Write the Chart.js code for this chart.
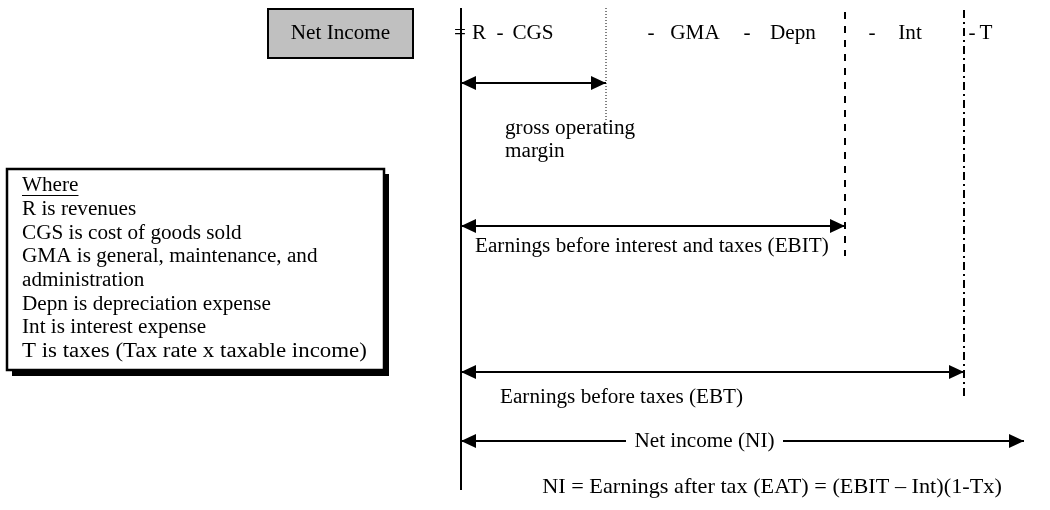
<!DOCTYPE html>
<html>
<head>
<meta charset="utf-8">
<title>Net Income</title>
<script src="https://cdn.jsdelivr.net/npm/chart.js@4.4.1/dist/chart.umd.min.js"></script>
<style>
  html, body { margin: 0; padding: 0; background: #ffffff; }
  #wrap { width: 1050px; height: 510px; }
</style>
</head>
<body>
<div id="wrap"><canvas id="diagram" width="1050" height="510"></canvas></div>
<script>
// terms of the income equation along the top (centre of each token)
const terms = ['=', 'R', '-', 'CGS', '-', 'GMA', '-', 'Depn', '-', 'Int', '-', 'T'];
const termX = [460, 479, 500, 533, 651, 695, 747, 793, 872, 910, 972, 986];

// boundaries: where each intermediate result ends
const boundaryX = [461, 606, 845, 964];
const boundaryTop = [8, 8, 12, 10];
const boundaryBottom = [490, 120, 256, 396];
const boundaryDash = [[], [1, 2], [7, 7], [8, 4, 2, 4]];
const boundaryWidth = [2, 1, 2, 2];

// spans (arrows) from revenue line to each boundary
const spanNames = ['Gross operating margin', 'EBIT', 'EBT', 'NI'];
const spanStart = [461, 461, 461, 461];
const spanEnd = [606, 845, 964, 1024];
const spanY = [83, 226, 372, 441];
const niGap = [626, 783];

// labels under the spans
const spanLabels = [['gross operating', 'margin'], ['Earnings before interest and taxes (EBIT)'], ['Earnings before taxes (EBT)']];
const spanLabelX = [505, 475, 500];
const spanLabelY = [129, 247, 398];
const niLabel = 'Net income (NI)';

const formula = 'NI = Earnings after tax (EAT) = (EBIT \u2013 Int)(1-Tx)';

const legendLines = ['Where', 'R is revenues', 'CGS is cost of goods sold', 'GMA is general, maintenance, and', 'administration', 'Depn is depreciation expense', 'Int is interest expense', 'T is taxes (Tax rate x taxable income)'];
const legendStretch = [1, 1, 1, 1, 1, 1, 1, 1.08];

const FONT = '20px "Liberation Serif", "Times New Roman", serif';
const STRETCH = 1.06;

function lineSet(xs, ys, opts) {
  return Object.assign({
    data: xs.map((x, i) => (x === null ? { x: null, y: null } : { x: x, y: ys[i] })),
    showLine: true,
    borderColor: '#000',
    backgroundColor: '#000',
    pointRadius: 0,
    pointHoverRadius: 0,
    spanGaps: false,
    tension: 0
  }, opts);
}

const datasets = [];
for (let i = 0; i < boundaryX.length; i++) {
  datasets.push(lineSet([boundaryX[i], boundaryX[i]], [boundaryTop[i], boundaryBottom[i]], {
    label: 'boundary ' + i,
    borderWidth: boundaryWidth[i],
    borderDash: boundaryDash[i],
    borderCapStyle: 'butt'
  }));
}
for (let i = 0; i < spanNames.length; i++) {
  let xs, ys;
  if (spanNames[i] === 'NI') {
    xs = [spanStart[i], niGap[0], null, niGap[1], spanEnd[i]];
    ys = [spanY[i], spanY[i], null, spanY[i], spanY[i]];
  } else {
    xs = [spanStart[i], spanEnd[i]];
    ys = [spanY[i], spanY[i]];
  }
  datasets.push(lineSet(xs, ys, {
    label: spanNames[i],
    borderWidth: 2,
    arrows: true
  }));
}

function drawText(ctx, text, x, y, align, opts) {
  opts = opts || {};
  const sx = STRETCH * (opts.stretch || 1);
  ctx.save();
  ctx.font = opts.font || FONT;
  ctx.fillStyle = '#000';
  ctx.textBaseline = 'middle';
  let w = ctx.measureText(text).width * sx;
  let left = align === 'center' ? x - w / 2 : x;
  ctx.translate(left, y);
  ctx.scale(sx, 1);
  ctx.textAlign = 'left';
  ctx.fillText(text, 0, 0);
  ctx.restore();
  return w;
}

const diagramPlugin = {
  id: 'diagram',
  beforeDatasetsDraw(chart) {
    const ctx = chart.ctx;
    const xs = chart.scales.x, ys = chart.scales.y;
    const px = v => xs.getPixelForValue(v);
    const py = v => ys.getPixelForValue(v);

    // "Net Income" box
    ctx.save();
    ctx.fillStyle = '#c0c0c0';
    ctx.fillRect(px(268), py(9), px(413) - px(268), py(58) - py(9));
    ctx.strokeStyle = '#000';
    ctx.lineWidth = 2;
    ctx.strokeRect(px(268), py(9), px(413) - px(268), py(58) - py(9));
    ctx.restore();
    drawText(ctx, 'Net Income', px(340.5), py(34), 'center');

    // legend box with drop shadow
    ctx.save();
    ctx.fillStyle = '#000';
    ctx.fillRect(px(12), py(174), px(389) - px(12), py(376) - py(174));
    ctx.fillStyle = '#fff';
    ctx.fillRect(px(7), py(169), px(384) - px(7), py(370) - py(169));
    ctx.strokeStyle = '#000';
    ctx.lineWidth = 2.5;
    ctx.strokeRect(px(7), py(169), px(384) - px(7), py(370) - py(169));
    ctx.restore();
  },
  afterDatasetsDraw(chart) {
    const ctx = chart.ctx;
    const xs = chart.scales.x, ys = chart.scales.y;
    const px = v => xs.getPixelForValue(v);
    const py = v => ys.getPixelForValue(v);

    // arrowheads at both ends of every span
    chart.data.datasets.forEach((ds, i) => {
      if (!ds.arrows) return;
      const pts = chart.getDatasetMeta(i).data.filter(p => !isNaN(p.x) && !isNaN(p.y));
      const a = pts[0], b = pts[pts.length - 1];
      const L = 15, H = 7;
      ctx.save();
      ctx.fillStyle = '#000';
      ctx.beginPath();
      ctx.moveTo(a.x, a.y);
      ctx.lineTo(a.x + L, a.y - H);
      ctx.lineTo(a.x + L, a.y + H);
      ctx.closePath();
      ctx.fill();
      ctx.beginPath();
      ctx.moveTo(b.x, b.y);
      ctx.lineTo(b.x - L, b.y - H);
      ctx.lineTo(b.x - L, b.y + H);
      ctx.closePath();
      ctx.fill();
      ctx.restore();
    });

    // equation terms
    terms.forEach((t, i) => drawText(ctx, t, px(termX[i]), py(34), 'center'));

    // span labels
    spanLabels.forEach((lines, i) => {
      lines.forEach((line, j) => drawText(ctx, line, px(spanLabelX[i]), py(spanLabelY[i] + j * 23), 'left'));
    });
    drawText(ctx, niLabel, px((niGap[0] + niGap[1]) / 2), py(spanY[3] + 1), 'center');

    drawText(ctx, formula, px(772), py(487), 'center', { font: '21px "Liberation Serif", "Times New Roman", serif' });

    // legend text
    legendLines.forEach((line, i) => {
      const y = py(186 + i * 23.7);
      const w = drawText(ctx, line, px(22), y, 'left', { stretch: legendStretch[i] });
      if (i === 0) {
        ctx.save();
        ctx.strokeStyle = '#000';
        ctx.lineWidth = 1;
        ctx.beginPath();
        ctx.moveTo(px(22), y + 9.5);
        ctx.lineTo(px(22) + w, y + 9.5);
        ctx.stroke();
        ctx.restore();
      }
    });
  }
};

new Chart(document.getElementById('diagram').getContext('2d'), {
  type: 'scatter',
  data: { datasets: datasets },
  options: {
    responsive: false,
    animation: false,
    devicePixelRatio: 1,
    layout: { padding: 0 },
    plugins: { legend: { display: false }, tooltip: { enabled: false } },
    events: [],
    scales: {
      x: { type: 'linear', min: 0, max: 1050, display: false },
      y: { type: 'linear', min: 0, max: 510, reverse: true, display: false }
    }
  },
  plugins: [diagramPlugin]
});
</script>
</body>
</html>
